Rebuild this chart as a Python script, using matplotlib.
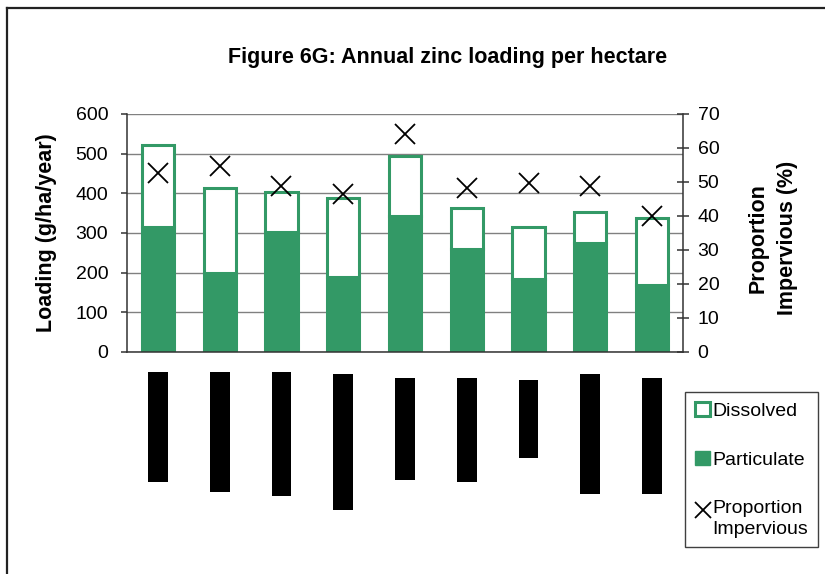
import matplotlib
matplotlib.use("Agg")
import matplotlib.pyplot as plt
import numpy as np
from matplotlib.lines import Line2D
from matplotlib.patches import Patch
from matplotlib.legend_handler import HandlerLine2D

plt.rcParams["font.family"] = ["Liberation Sans", "DejaVu Sans"]

# ---- data ----
sites = ["1", "2", "3", "4", "5", "6", "7", "8", "9"]
particulate = [315, 198, 302, 188, 342, 260, 184, 276, 168]   # g/ha/year
dissolved = [207, 215, 102, 200, 153, 102, 132, 76, 169]       # g/ha/year
impervious = [52.7, 54.8, 48.8, 46.6, 64.0, 48.1, 49.8, 48.9, 40.0]  # %

left_ticks = [0, 100, 200, 300, 400, 500, 600]
right_ticks = [0, 10, 20, 30, 40, 50, 60, 70]

# obscured site-name blocks beneath the axis (start and length below the axis line)
label_offset = [20, 20, 20, 22, 26, 26, 28, 22, 26]
label_length = [110, 120, 124, 136, 102, 104, 78, 120, 116]

GREEN = "#339966"
W, H = 825, 574


class FirstLineMarker(HandlerLine2D):
    """Marker handle aligned with the first line of a two-line label."""
    def create_artists(self, legend, orig_handle, xdescent, ydescent,
                       width, height, fontsize, trans):
        arts = super().create_artists(legend, orig_handle, xdescent, ydescent,
                                      width, height, fontsize, trans)
        for a in arts:
            a.set_ydata(np.asarray(a.get_ydata(), dtype=float) + 0.42 * fontsize)
        return arts


fig = plt.figure(figsize=(W / 100, H / 100), dpi=100)
ax = fig.add_axes([127 / W, 1 - 352 / H, (683 - 127) / W, (352 - 114) / H])

x = np.arange(len(sites))
bw = 0.52
ax.bar(x, particulate, width=bw, color=GREEN, edgecolor=GREEN, linewidth=2.2, zorder=2)
ax.bar(x, dissolved, bottom=particulate, width=bw, color="white",
       edgecolor=GREEN, linewidth=2.2, zorder=2)

ax.set_xlim(-0.5, len(sites) - 0.5)
ax.set_ylim(0, 600)
ax.set_yticks(left_ticks)
ax.set_xticks([])
ax.yaxis.grid(True, color="#808080", linewidth=1.0)
ax.set_axisbelow(True)
for s in ["top", "right"]:
    ax.spines[s].set_visible(False)
for s in ["left", "bottom"]:
    ax.spines[s].set_color("#333333")
    ax.spines[s].set_linewidth(1.1)
ax.tick_params(axis="y", direction="out", length=4.5, width=1.1, color="#333333",
               labelsize=14, pad=9)

ax2 = ax.twinx()
ax2.plot(x, impervious, linestyle="none", marker="x", markersize=14.5,
         markeredgewidth=1.3, color="black", zorder=3)
ax2.set_ylim(0, 70)
ax2.set_yticks(right_ticks)
for s in ["top", "left", "bottom"]:
    ax2.spines[s].set_visible(False)
ax2.spines["right"].set_color("#333333")
ax2.spines["right"].set_linewidth(1.1)
ax2.tick_params(axis="y", direction="inout", length=9, width=1.1, color="#333333",
                labelsize=14, pad=6)

# obscured category names
ax_lab = fig.add_axes([127 / W, 0, (683 - 127) / W, 1 - 352 / H], sharex=ax)
ax_lab.bar(x, label_length, bottom=label_offset, width=0.32, color="black")
ax_lab.set_ylim(222, 0)
ax_lab.axis("off")

# titles and axis labels
fig.text(448 / W, 1 - 57 / H, "Figure 6G: Annual zinc loading per hectare",
         ha="center", va="center", fontsize=15.5, fontweight="bold")
fig.text(47 / W, 1 - 233 / H, "Loading (g/ha/year)", rotation=90,
         ha="center", va="center", fontsize=15.5, fontweight="bold")
fig.text(773 / W, 1 - 238 / H, "Proportion\nImpervious (%)", rotation=90,
         ha="center", va="center", multialignment="center",
         fontsize=15.5, fontweight="bold", linespacing=1.55)

# legend
cross = Line2D([], [], linestyle="none", marker="x", markersize=11,
               markeredgewidth=1.3, color="black")
handles = [
    Patch(facecolor="white", edgecolor=GREEN, linewidth=2.2),
    Patch(facecolor=GREEN, edgecolor=GREEN),
    cross,
]
labels = ["Dissolved", "Particulate", "Proportion\nImpervious"]
leg = fig.legend(handles, labels, loc="upper left",
                 bbox_to_anchor=(685 / W, 1 - 392 / H), borderaxespad=0,
                 fontsize=14, frameon=True, fancybox=False, framealpha=1,
                 edgecolor="#404040", handlelength=0.8, handleheight=0.75,
                 handletextpad=0.12, labelspacing=1.6, borderpad=0.5,
                 handler_map={cross: FirstLineMarker()})
leg.get_frame().set_linewidth(1.0)
for t in leg.get_texts():
    t.set_linespacing(1.3)

# outer chart frame (top and left edges)
fig.add_artist(Line2D([7 / W, 7 / W], [0, 1 - 8 / H], transform=fig.transFigure,
                      color="#222222", linewidth=1.6))
fig.add_artist(Line2D([7 / W, 1], [1 - 8 / H, 1 - 8 / H], transform=fig.transFigure,
                      color="#222222", linewidth=1.6))

fig.savefig("out.png", dpi=100, facecolor="white")
